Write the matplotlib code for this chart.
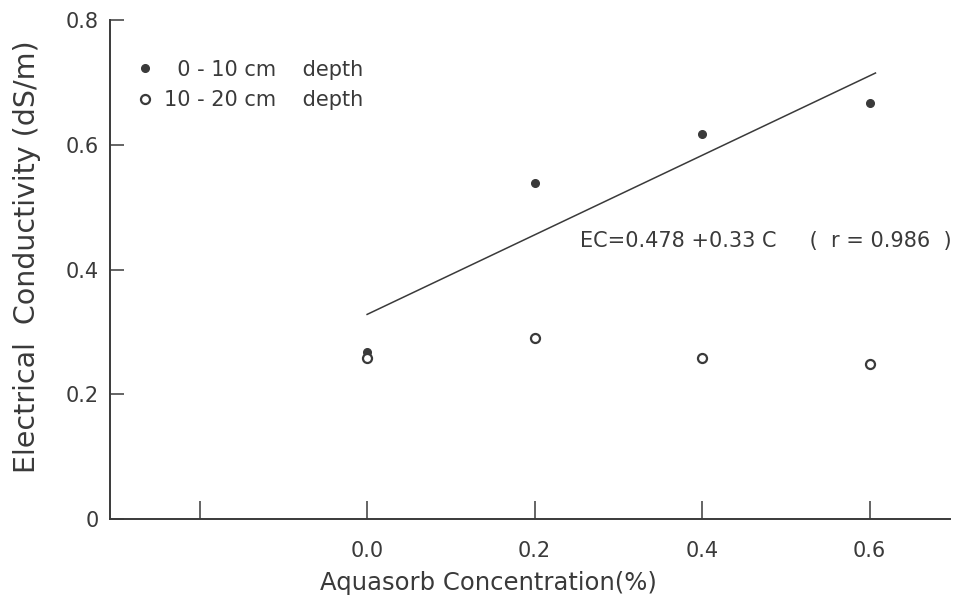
import matplotlib
matplotlib.use("Agg")
import matplotlib.pyplot as plt

conc = [0.0, 0.2, 0.4, 0.6]
ec_0_10 = [0.267, 0.538, 0.618, 0.667]
ec_10_20 = [0.258, 0.290, 0.258, 0.248]
fit_x = [0.0, 0.607]
fit_y = [0.328, 0.715]
xticks = [-0.2, 0.0, 0.2, 0.4, 0.6]
xticklabels = ["", "0.0", "0.2", "0.4", "0.6"]
yticks = [0, 0.2, 0.4, 0.6, 0.8]
yticklabels = ["0", "0.2", "0.4", "0.6", "0.8"]

c = "#3a3a3a"
plt.rcParams['font.family'] = ['DejaVu Sans']
fig = plt.figure(figsize=(9.68, 6.05), dpi=100)
ax = fig.add_axes([110/968, 1-519/605, (950-110)/968, (519-20)/605])

ax.plot(fit_x, fit_y, color=c, lw=1.1)
ax.plot(conc, ec_0_10, 'o', ms=5.5, color=c, mfc=c, label="  0 - 10 cm    depth", ls='none')
ax.plot(conc, ec_10_20, 'o', ms=6.5, color=c, mfc='white', mew=1.6, label="10 - 20 cm    depth", ls='none')

ax.set_xlim(-0.307, 0.696)
ax.set_ylim(0, 0.8)
ax.set_xticks(xticks)
ax.set_xticklabels(xticklabels)
ax.set_yticks(yticks)
ax.set_yticklabels(yticklabels)
for s in ['top', 'right']:
    ax.spines[s].set_visible(False)
for s in ['left', 'bottom']:
    ax.spines[s].set_color(c)
    ax.spines[s].set_linewidth(1.4)
ax.tick_params(direction='in', width=1.1, colors=c, labelsize=15)
ax.tick_params(axis='x', length=13, pad=16)
ax.tick_params(axis='y', length=10, pad=8)

ax.set_xlabel("Aquasorb Concentration(%)", fontsize=17.5, color=c)
ax.xaxis.set_label_coords(0.45, -0.105)
ax.set_ylabel("Electrical  Conductivity (dS/m)", fontsize=20.5, color=c)
ax.yaxis.set_label_coords(-0.082, 0.525)

ax.text(0.254, 0.446, "EC=0.478 +0.33 C     (  r = 0.986  )", fontsize=15, color=c, va='center', ha='left')

ax.legend(loc='upper left', bbox_to_anchor=(0.01, 0.958), frameon=False, fontsize=15,
          handletextpad=0.5, labelspacing=0.5, labelcolor=c, handlelength=0.8)

fig.savefig("out.png", dpi=100)
